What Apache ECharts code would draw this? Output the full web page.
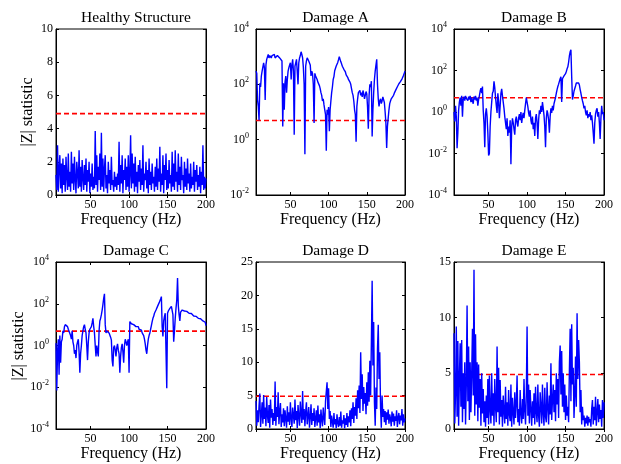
<!DOCTYPE html>
<html>
<head>
<meta charset="utf-8">
<script src="https://cdn.jsdelivr.net/npm/echarts@6/dist/echarts.min.js"></script>
<style>
  html, body { margin: 0; padding: 0; background: #fff; }
  #chart { width: 621px; height: 464px; }
</style>
</head>
<body>
<div id="chart"></div>
<script>
// frequency grid (Hz)
const freq = [
  5, 6, 7, 8, 9, 10, 11, 12, 13, 14, 15, 16, 17, 18, 19, 20, 21, 22, 23, 24,
  25, 26, 27, 28, 29, 30, 31, 32, 33, 34, 35, 36, 37, 38, 39, 40, 41, 42, 43, 44,
  45, 46, 47, 48, 49, 50, 51, 52, 53, 54, 55, 56, 57, 58, 59, 60, 61, 62, 63, 64,
  65, 66, 67, 68, 69, 70, 71, 72, 73, 74, 75, 76, 77, 78, 79, 80, 81, 82, 83, 84,
  85, 86, 87, 88, 89, 90, 91, 92, 93, 94, 95, 96, 97, 98, 99, 100, 101, 102, 103, 104,
  105, 106, 107, 108, 109, 110, 111, 112, 113, 114, 115, 116, 117, 118, 119, 120, 121, 122, 123, 124,
  125, 126, 127, 128, 129, 130, 131, 132, 133, 134, 135, 136, 137, 138, 139, 140, 141, 142, 143, 144,
  145, 146, 147, 148, 149, 150, 151, 152, 153, 154, 155, 156, 157, 158, 159, 160, 161, 162, 163, 164,
  165, 166, 167, 168, 169, 170, 171, 172, 173, 174, 175, 176, 177, 178, 179, 180, 181, 182, 183, 184,
  185, 186, 187, 188, 189, 190, 191, 192, 193, 194, 195, 196, 197, 198, 199, 200
];

const healthy = [
  1.2, 0.3, 3.0, 0.2, 1.6, 2.4, 0.4, 1.9, 0.1, 2.2,
  0.6, 1.8, 0.2, 2.3, 1.1, 0.3, 2.5, 0.5, 1.4, 0.2,
  2.6, 0.7, 1.9, 0.3, 2.3, 0.9, 0.1, 2.0, 1.3, 0.4,
  2.7, 0.5, 1.7, 0.2, 2.1, 1.0, 0.3, 1.8, 0.6, 2.2,
  0.2, 1.5, 0.8, 2.0, 0.1, 1.3, 0.5, 1.9, 0.3, 1.1,
  0.4, 3.85, 0.6, 2.4, 0.2, 1.7, 0.9, 2.5, 0.3, 3.75,
  0.5, 2.2, 0.2, 1.6, 2.4, 0.4, 1.2, 0.1, 2.0, 0.7,
  1.5, 0.3, 2.3, 0.6, 0.9, 0.2, 1.4, 0.5, 1.1, 0.3,
  1.3, 0.6, 3.2, 0.2, 1.8, 0.7, 2.4, 0.1, 1.5, 0.9,
  2.2, 0.3, 1.7, 0.5, 2.4, 0.2, 1.2, 3.6, 0.4, 2.5,
  0.7, 1.9, 0.2, 2.3, 0.5, 1.4, 0.1, 1.8, 0.8, 2.1,
  0.3, 1.6, 0.6, 3.0, 0.2, 1.3, 0.9, 2.0, 0.4, 1.5,
  0.1, 2.2, 0.6, 1.4, 0.3, 1.9, 0.7, 1.1, 0.2, 1.7,
  0.5, 2.2, 0.3, 1.6, 0.8, 2.9, 0.2, 1.3, 0.6, 2.4,
  0.1, 1.8, 0.9, 2.5, 0.3, 1.5, 0.4, 2.1, 0.7, 1.2,
  0.2, 2.6, 0.5, 1.9, 0.3, 2.7, 0.8, 1.4, 0.2, 2.5,
  0.6, 1.7, 0.3, 2.3, 0.9, 1.2, 0.1, 2.0, 0.5, 1.6,
  0.3, 2.2, 0.7, 1.3, 0.2, 1.9, 0.4, 1.1, 0.6, 2.0,
  0.2, 1.5, 0.8, 1.8, 0.3, 1.2, 0.5, 1.7, 0.1, 1.4,
  0.6, 3.0, 0.3, 1.1, 0.4, 1.0
];

const damageA = [
  300, 250, 27, 16, 5, 110, 80, 200, 300, 350,
  600, 400, 27, 500, 800, 700, 1200, 900, 1100, 1000,
  900, 1100, 950, 1000, 1200, 900, 1000, 850, 1100, 1000,
  1200, 900, 1050, 800, 700, 3, 110, 12, 120, 200,
  50, 150, 300, 400, 500, 600, 150, 500, 800, 300,
  1.5, 450, 600, 800, 700, 100, 600, 900, 1100, 1500,
  1200, 900, 400, 100, 0.3, 450, 700, 900, 800, 700,
  800, 500, 200, 300, 240, 100, 4, 250, 200, 180,
  150, 120, 140, 90, 70, 50, 40, 25, 30, 18,
  12, 8, 0.4, 12, 8, 15, 2, 12, 25, 50,
  80, 150, 190, 310, 340, 460, 540, 620, 780, 1000,
  800, 650, 550, 450, 400, 350, 300, 280, 220, 200,
  180, 150, 140, 120, 100, 70, 50, 40, 25, 12,
  8, 0.85, 16, 30, 50, 45, 60, 40, 50, 35,
  60, 45, 30, 40, 55, 45, 15, 2.5, 40, 100,
  80, 130, 1.3, 12, 50, 150, 300, 500, 800, 100,
  30, 16, 25, 30, 20, 25, 35, 28, 22, 10,
  4, 0.5, 3, 6, 12, 20, 25, 30, 28, 35,
  40, 48, 52, 63, 68, 82, 84, 105, 108, 125,
  135, 155, 175, 210, 240, 300
];

const damageB = [
  1.0, 0.35, 2.0, 0.6, 0.018, 0.1, 1.2, 3.0, 5.0, 2.0,
  6.0, 0.6, 4.0, 5.5, 3.5, 6.0, 4.5, 5.0, 3.5, 5.5,
  4.0, 6.0, 3.0, 5.0, 4.5, 2.5, 5.5, 4.0, 6.0, 3.5,
  5.0, 2.0, 4.0, 6.0, 10, 14, 8, 17, 1.2, 0.3,
  0.02, 0.8, 1.5, 0.6, 0.1, 0.008, 0.01, 0.2, 1.0, 3.0,
  8, 10, 30, 15, 5, 2, 0.9, 8, 3, 0.5,
  2, 8, 13, 6, 3, 1.5, 0.6, 0.3, 0.15, 0.5,
  0.07, 0.2, 0.1, 0.4, 0.003, 0.2, 0.5, 0.3, 0.15, 0.08,
  0.4, 0.6, 0.3, 0.2, 0.5, 0.8, 0.4, 1.0, 0.3, 0.6,
  0.9, 0.5, 1.2, 2.5, 5.0, 3.0, 1.8, 0.9, 0.6, 1.2,
  0.4, 0.25, 0.6, 0.15, 0.3, 0.07, 0.5, 0.8, 0.3, 0.05,
  0.4, 1.2, 0.8, 2.0, 1.0, 3.0, 1.5, 0.7, 0.2, 0.02,
  0.5, 1.2, 0.8, 0.4, 0.1, 0.6, 1.5, 0.9, 2.0, 1.2,
  2.5, 3.0, 5.0, 8.0, 12, 17, 22, 30, 40, 50,
  3, 40, 45, 55, 60, 70, 90, 120, 150, 250,
  500, 800, 1000, 50, 4, 6, 10, 12, 18, 25,
  28, 30, 25, 20, 12, 8, 5, 3.5, 2.5, 1.5,
  2.0, 1.0, 0.7, 1.2, 0.5, 0.8, 0.6, 1.0, 0.4, 0.7,
  0.3, 0.1, 0.03, 0.3, 0.8, 1.2, 1.5, 0.6, 1.0, 0.3,
  0.05, 0.5, 2.0, 0.8, 1.0, 0.4
];

const damageC = [
  1.3, 0.007, 0.5, 2.0, 0.04, 3.0, 0.15, 1.5, 2.0, 5.0,
  4.0, 8.0, 10, 12, 9, 8, 6, 5, 7, 3,
  2, 5, 1.5, 1.0, 0.4, 0.6, 0.25, 1.0, 1.5, 2.0,
  0.5, 0.05, 0.4, 1.0, 3.0, 5.0, 8.0, 10, 6, 4,
  1.0, 0.2, 1.5, 4.0, 6, 7, 8, 12, 20, 8,
  4, 1.0, 0.3, 1.0, 0.5, 0.3, 5, 15, 20, 30,
  50, 90, 180, 300, 10, 4, 5, 6, 4.5, 4,
  3.5, 2.5, 1.8, 0.2, 0.1, 0.8, 1.0, 0.6, 0.3, 0.8,
  1.2, 0.6, 0.4, 0.05, 0.3, 0.8, 1.2, 0.5, 0.15, 1.0,
  2.0, 1.5, 1.0, 1.5, 2.0, 0.05, 14, 12, 11, 10,
  12, 10, 9, 11, 8, 9, 7, 8, 6, 7,
  5, 5.5, 4, 3.5, 3, 2, 1.2, 0.6, 0.4, 1.0,
  2.0, 3, 4, 6, 9, 14, 20, 25, 35, 40,
  50, 60, 75, 90, 110, 130, 170, 220, 8, 2.7,
  15, 25, 35, 40, 0.009, 35, 45, 50, 60, 70,
  75, 80, 30, 1.5, 5, 20, 60, 150, 1700, 80,
  30, 15, 40, 45, 50, 55, 50, 45, 50, 45,
  43, 39, 40, 35, 37, 32, 34, 29, 30, 26,
  27, 24, 25, 22, 23, 20, 21, 18, 19, 17,
  17, 15, 16, 14, 13, 9
];

const damageD = [
  4.2, 0.5, 2.8, 1.0, 3.5, 5.3, 0.3, 2.1, 4.0, 0.8,
  5.1, 1.5, 3.2, 0.4, 4.8, 2.0, 0.9, 3.6, 0.2, 4.4,
  1.7, 3.0, 0.6, 2.4, 1.2, 7.1, 0.5, 3.3, 1.8, 5.5,
  0.7, 2.6, 3.9, 0.3, 2.2, 1.0, 3.1, 0.4, 2.8, 1.5,
  0.2, 3.4, 1.1, 2.5, 0.6, 4.0, 1.6, 0.3, 3.2, 2.0,
  0.8, 4.4, 1.3, 2.7, 0.1, 3.6, 1.9, 0.5, 4.1, 2.3,
  0.9, 5.7, 1.4, 3.0, 0.4, 2.6, 4.0, 0.7, 2.0, 3.3,
  0.2, 1.8, 3.7, 0.6, 2.4, 1.2, 3.1, 0.3, 1.6, 2.8,
  0.5, 3.5, 1.0, 2.2, 0.1, 2.9, 1.4, 0.4, 3.2, 1.7,
  0.6, 4.2, 5.6, 7.0, 3.0, 6.1, 1.5, 2.7, 0.3, 2.0,
  1.1, 0.2, 2.4, 0.7, 1.5, 0.1, 2.2, 0.9, 0.3, 1.8,
  0.5, 2.6, 0.2, 1.3, 0.8, 2.1, 0.1, 1.6, 0.6, 2.4,
  0.3, 1.9, 1.0, 2.8, 0.4, 3.1, 1.5, 4.0, 0.9, 3.3,
  2.0, 4.6, 1.5, 5.8, 3.1, 6.5, 2.4, 11.5, 4.5, 8.2,
  2.7, 6.3, 3.8, 5.4, 2.2, 7.0, 3.5, 8.5, 4.1, 10.2,
  5.0, 13.0, 22.2, 9.5, 16.0, 4.0, 0.5, 6.2, 3.0, 12.0,
  15.6, 7.5, 11.5, 3.2, 0.2, 5.0, 1.8, 3.0, 1.0, 2.7,
  0.6, 2.5, 1.4, 2.9, 0.8, 2.2, 1.6, 0.4, 2.6, 1.1,
  2.3, 0.5, 1.9, 1.2, 2.8, 0.3, 1.7, 2.4, 0.7, 2.0,
  1.3, 3.0, 0.5, 2.2, 1.0, 1.6
];

const damageE = [
  8.6, 0.5, 3.2, 9.2, 1.1, 7.9, 0.3, 4.5, 7.7, 2.0,
  8.0, 0.6, 5.0, 1.8, 6.0, 0.4, 4.0, 11.1, 2.5, 7.4,
  0.8, 6.0, 1.5, 5.0, 9.0, 3.0, 14.3, 1.2, 8.5, 2.2,
  6.0, 0.7, 5.8, 1.9, 4.5, 0.3, 5.0, 1.4, 3.6, 0.6,
  2.5, 0.2, 3.0, 1.0, 4.5, 0.4, 4.8, 1.7, 0.5, 5.0,
  1.2, 3.2, 0.3, 4.5, 2.0, 0.6, 7.4, 1.5, 5.5, 0.4,
  4.4, 1.1, 2.6, 0.2, 3.0, 1.6, 0.5, 3.8, 0.9, 2.4,
  0.3, 3.5, 1.3, 0.7, 4.0, 0.2, 2.8, 1.5, 0.4, 3.3,
  1.0, 2.2, 4.8, 0.6, 1.8, 0.3, 3.5, 1.4, 0.5, 2.7,
  0.9, 4.5, 1.6, 0.4, 3.0, 9.2, 1.2, 4.0, 0.5, 3.5,
  1.8, 0.3, 2.5, 1.0, 3.2, 0.4, 3.8, 1.5, 0.6, 4.0,
  1.2, 0.2, 3.3, 2.0, 0.5, 4.0, 1.4, 0.3, 3.7, 1.1,
  0.6, 4.2, 1.9, 0.4, 3.0, 1.3, 5.9, 0.8, 2.6, 4.0,
  1.5, 3.5, 0.7, 5.0, 2.2, 4.5, 1.0, 6.0, 7.5, 3.1,
  7.0, 2.0, 5.0, 1.5, 4.0, 0.8, 3.0, 1.2, 2.0, 0.6,
  5.2, 9.0, 2.5, 9.4, 4.0, 5.5, 1.0, 3.0, 6.5, 2.0,
  10.4, 4.5, 8.0, 6.0, 1.5, 3.5, 0.4, 2.0, 0.8, 1.2,
  0.2, 1.0, 0.5, 1.2, 0.3, 1.1, 0.6, 0.9, 0.2, 1.8,
  2.6, 0.4, 2.0, 0.8, 2.9, 0.3, 1.5, 2.7, 0.6, 2.2,
  0.9, 1.7, 0.2, 2.6, 1.0, 2.4
];

const threshold = 4.9;
const titles = ['Healthy Structure', 'Damage A', 'Damage B', 'Damage C', 'Damage D', 'Damage E'];
const panelData = [healthy, damageA, damageB, damageC, damageD, damageE];

const font = 'Liberation Serif';
// [left, top, width, height]
const boxes = [
  [56, 29, 150, 166], [256, 29, 149, 166], [454, 29, 150, 166],
  [56, 262, 150, 167], [256, 262, 149, 167], [454, 262, 150, 167]
];
const yScales = [
  { type: 'value', min: 0, max: 10, interval: 2 },
  { type: 'log', min: 0.01, max: 10000 },
  { type: 'log', min: 0.0001, max: 10000 },
  { type: 'log', min: 0.0001, max: 10000 },
  { type: 'value', min: 0, max: 25, interval: 5 },
  { type: 'value', min: 0, max: 15, interval: 5 }
];

const chart = echarts.init(document.getElementById('chart'));

const grid = [], xAxis = [], yAxis = [], series = [], title = [];
const tick = { show: true, inside: true, length: 3, lineStyle: { color: '#000', width: 1 } };
const line = { show: true, lineStyle: { color: '#000', width: 1 } };

function logLabel(v) {
  const e = Math.round(Math.log10(v));
  return '{b|10}{s|' + (e < 0 ? '-' + (-e) : e) + '}';
}

boxes.forEach((b, i) => {
  grid.push({ left: b[0], top: b[1], width: b[2], height: b[3], show: true, borderColor: '#000', borderWidth: 1, backgroundColor: '#fff' });
  title.push({
    text: titles[i], left: b[0] + b[2] / 2, top: i < 3 ? 5 : 238, textAlign: 'center',
    textStyle: { fontFamily: font, fontSize: 15.5, fontWeight: 'normal', color: '#000' }
  });

  const xBase = { type: 'value', gridIndex: i, min: 5, max: 200, splitNumber: 4, splitLine: { show: false }, axisLine: line, axisTick: tick };
  xAxis.push(Object.assign({}, xBase, {
    position: 'bottom',
    name: 'Frequency (Hz)', nameLocation: 'middle', nameGap: 15,
    nameTextStyle: { fontFamily: font, fontSize: 16, color: '#000' },
    axisLabel: {
      margin: 4, fontFamily: font, fontSize: 12, color: '#000',
      formatter: v => (v % 50 === 0 ? String(v) : '')
    }
  }));
  xAxis.push(Object.assign({}, xBase, { position: 'top', axisLabel: { show: false } }));

  const ys = yScales[i];
  const yBase = { gridIndex: i, min: ys.min, max: ys.max, splitLine: { show: false }, axisLine: line, axisTick: tick };
  if (ys.type === 'log') {
    yBase.type = 'log';
    yBase.logBase = 100;
  } else {
    yBase.type = 'value';
    yBase.interval = ys.interval;
  }
  const label = ys.type === 'log'
    ? {
        margin: 7, formatter: logLabel,
        rich: {
          b: { fontFamily: font, fontSize: 12, color: '#000' },
          s: { fontFamily: font, fontSize: 8, color: '#000', padding: [0, 0, 8, 0] }
        }
      }
    : { margin: 3, fontFamily: font, fontSize: 12, color: '#000' };
  yAxis.push(Object.assign({}, yBase, { position: 'left', axisLabel: label }));
  yAxis.push(Object.assign({}, yBase, { position: 'right', axisLabel: { show: false } }));

  series.push({
    type: 'line', xAxisIndex: 2 * i, yAxisIndex: 2 * i, z: 2,
    symbol: 'none', silent: true,
    lineStyle: { color: '#ff0000', width: 1.6, type: [5, 3] },
    data: [[5, threshold], [200, threshold]]
  });
  series.push({
    type: 'line', xAxisIndex: 2 * i, yAxisIndex: 2 * i, z: 3,
    symbol: 'none', silent: true,
    lineStyle: { color: '#0000ff', width: 1.4 },
    data: freq.map((f, k) => [f, panelData[i][k]])
  });
});

chart.setOption({
  animation: false,
  backgroundColor: '#fff',
  title: title,
  grid: grid,
  xAxis: xAxis,
  yAxis: yAxis,
  series: series,
  graphic: [
    { type: 'text', x: 28, y: 112, rotation: Math.PI / 2,
      style: { text: '|Z| statistic', fontFamily: font, fontSize: 16, fill: '#000', align: 'center', verticalAlign: 'middle' } },
    { type: 'text', x: 19, y: 346, rotation: Math.PI / 2,
      style: { text: '|Z| statistic', fontFamily: font, fontSize: 16, fill: '#000', align: 'center', verticalAlign: 'middle' } }
  ]
});
</script>
</body>
</html>
